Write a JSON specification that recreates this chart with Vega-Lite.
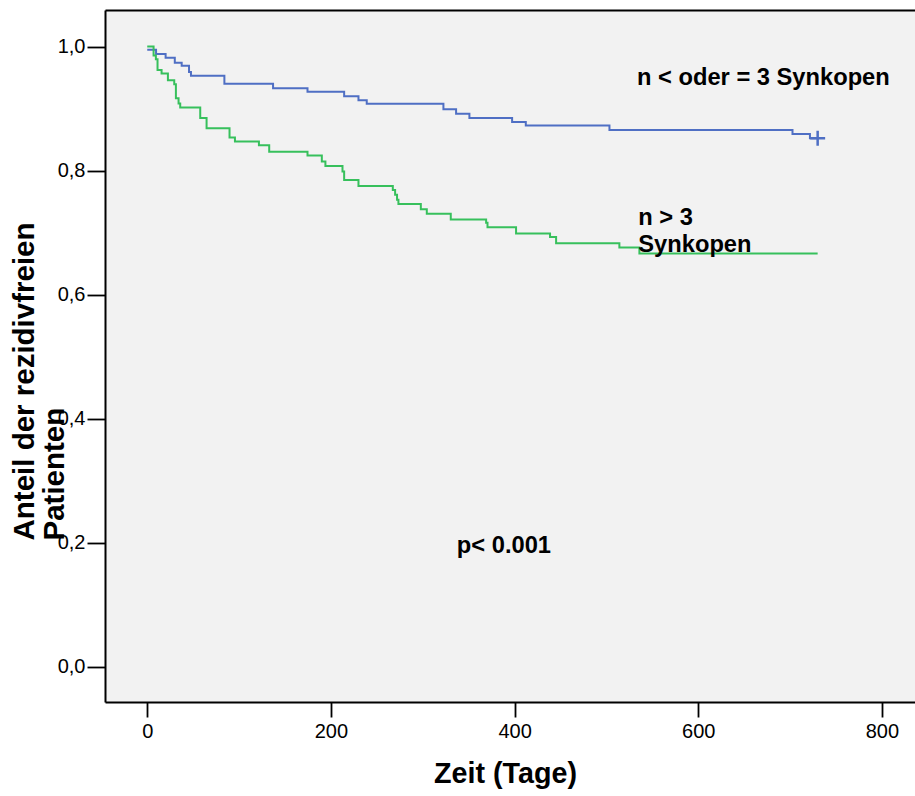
{
  "$schema": "https://vega.github.io/schema/vega-lite/v6.json",
  "width": 810,
  "height": 692,
  "autosize": {"type": "none"},
  "padding": {"left": 105, "top": 10, "right": 0, "bottom": 94},
  "background": "white",
  "config": {
    "view": {"fill": "#f2f2f2", "stroke": null},
    "font": "Liberation Sans",
    "axis": {"grid": false}
  },
  "datasets": {
    "curves": [
      {"group": "n <= 3", "day": 0, "S": 0.995},
      {"group": "n <= 3", "day": 9.6, "S": 0.988},
      {"group": "n <= 3", "day": 20, "S": 0.982},
      {"group": "n <= 3", "day": 30, "S": 0.974},
      {"group": "n <= 3", "day": 37.5, "S": 0.969},
      {"group": "n <= 3", "day": 45.5, "S": 0.959},
      {"group": "n <= 3", "day": 47.6, "S": 0.953},
      {"group": "n <= 3", "day": 84, "S": 0.94},
      {"group": "n <= 3", "day": 137, "S": 0.933},
      {"group": "n <= 3", "day": 174.5, "S": 0.927},
      {"group": "n <= 3", "day": 214.4, "S": 0.92},
      {"group": "n <= 3", "day": 230, "S": 0.9135},
      {"group": "n <= 3", "day": 239, "S": 0.908},
      {"group": "n <= 3", "day": 322.5, "S": 0.899},
      {"group": "n <= 3", "day": 336.3, "S": 0.8915},
      {"group": "n <= 3", "day": 350.8, "S": 0.885},
      {"group": "n <= 3", "day": 397.3, "S": 0.8785},
      {"group": "n <= 3", "day": 412.2, "S": 0.8726},
      {"group": "n <= 3", "day": 503.3, "S": 0.8656},
      {"group": "n <= 3", "day": 702.6, "S": 0.859},
      {"group": "n <= 3", "day": 721.6, "S": 0.852},
      {"group": "n <= 3", "day": 730, "S": 0.852},
      {"group": "n > 3", "day": 0, "S": 1.0},
      {"group": "n > 3", "day": 6.9, "S": 0.9855},
      {"group": "n > 3", "day": 9.4, "S": 0.9796},
      {"group": "n > 3", "day": 11.2, "S": 0.9624},
      {"group": "n > 3", "day": 15.6, "S": 0.9565},
      {"group": "n > 3", "day": 22.5, "S": 0.9458},
      {"group": "n > 3", "day": 29.4, "S": 0.9394},
      {"group": "n > 3", "day": 31.2, "S": 0.9168},
      {"group": "n > 3", "day": 34.1, "S": 0.9081},
      {"group": "n > 3", "day": 35.9, "S": 0.9016},
      {"group": "n > 3", "day": 57.7, "S": 0.885},
      {"group": "n > 3", "day": 64.6, "S": 0.8684},
      {"group": "n > 3", "day": 89.6, "S": 0.8532},
      {"group": "n > 3", "day": 95.5, "S": 0.8468},
      {"group": "n > 3", "day": 121.6, "S": 0.841},
      {"group": "n > 3", "day": 132.8, "S": 0.8302},
      {"group": "n > 3", "day": 174.5, "S": 0.8242},
      {"group": "n > 3", "day": 190.1, "S": 0.8145},
      {"group": "n > 3", "day": 194, "S": 0.8076},
      {"group": "n > 3", "day": 212.6, "S": 0.7984},
      {"group": "n > 3", "day": 214.4, "S": 0.785},
      {"group": "n > 3", "day": 230, "S": 0.7753},
      {"group": "n > 3", "day": 267.4, "S": 0.7689},
      {"group": "n > 3", "day": 269.9, "S": 0.761},
      {"group": "n > 3", "day": 272, "S": 0.753},
      {"group": "n > 3", "day": 273.5, "S": 0.746},
      {"group": "n > 3", "day": 297.9, "S": 0.7377},
      {"group": "n > 3", "day": 304.4, "S": 0.7306},
      {"group": "n > 3", "day": 330.5, "S": 0.721},
      {"group": "n > 3", "day": 369, "S": 0.716},
      {"group": "n > 3", "day": 370.5, "S": 0.7087},
      {"group": "n > 3", "day": 401.6, "S": 0.6984},
      {"group": "n > 3", "day": 438.6, "S": 0.693},
      {"group": "n > 3", "day": 445.2, "S": 0.6829},
      {"group": "n > 3", "day": 514.1, "S": 0.6758},
      {"group": "n > 3", "day": 535.9, "S": 0.6664},
      {"group": "n > 3", "day": 730, "S": 0.6664}
    ],
    "censor": [
      {"group": "n <= 3", "day": 730, "S": 0.852}
    ],
    "labels": [
      {"day": 533.3, "S": 0.9382, "label": "n < oder = 3 Synkopen"},
      {"day": 534.7, "S": 0.7124, "label": "n > 3"},
      {"day": 534.7, "S": 0.6694, "label": "Synkopen"},
      {"day": 337.1, "S": 0.1839, "label": "p< 0.001"}
    ]
  },
  "resolve": {"axis": {"x": "independent"}},
  "layer": [
    {
      "data": {"name": "curves"},
      "mark": {"type": "line", "interpolate": "step-after", "strokeWidth": 2},
      "encoding": {
        "x": {
          "field": "day", "type": "quantitative",
          "scale": {"domain": [-46, 836], "nice": false, "zero": false},
          "axis": {
            "orient": "bottom",
            "values": [0, 200, 400, 600, 800],
            "domainColor": "black", "domainWidth": 2,
            "tickColor": "black", "tickWidth": 1.8, "tickSize": 15,
            "labelPadding": 4, "labelFontSize": 20, "labelColor": "black",
            "labelFont": "Liberation Sans", "labelFlush": false, "labelOverlap": false,
            "title": "Zeit (Tage)",
            "titleFont": "Liberation Sans", "titleFontSize": 28.7, "titleFontWeight": "bold",
            "titleColor": "black", "titleX": 400, "titleY": 80,
            "titleAlign": "center", "titleBaseline": "alphabetic"
          }
        },
        "y": {
          "field": "S", "type": "quantitative",
          "scale": {"domain": [-0.057, 1.059], "nice": false, "zero": false},
          "axis": {
            "values": [0, 0.2, 0.4, 0.6, 0.8, 1.0],
            "labelExpr": "replace(format(datum.value, '.1f'), '.', ',')",
            "domainColor": "black", "domainWidth": 2,
            "tickColor": "black", "tickWidth": 1.8, "tickSize": 18,
            "labelPadding": 2, "labelFontSize": 20, "labelColor": "black",
            "labelFont": "Liberation Sans", "labelFlush": false, "labelOverlap": false,
            "title": ["Anteil der rezidivfreien", "Patienten"],
            "titleFont": "Liberation Sans", "titleFontSize": 29.5, "titleFontWeight": "bold",
            "titleColor": "black", "titleAngle": 270, "titleAlign": "left",
            "titleBaseline": "alphabetic", "titleX": -72, "titleY": 530,
            "titleLineHeight": 30
          }
        },
        "color": {
          "field": "group", "type": "nominal",
          "scale": {"domain": ["n <= 3", "n > 3"], "range": ["#4f6fc4", "#37c05c"]},
          "legend": null
        }
      }
    },
    {
      "data": {"name": "censor"},
      "mark": {"type": "point", "shape": "M-1,0H1M0,-1V1", "filled": false, "size": 225, "strokeWidth": 2.5, "color": "#4f6fc4", "opacity": 1},
      "encoding": {
        "x": {"field": "day", "type": "quantitative", "scale": {"domain": [-46, 836], "nice": false, "zero": false}, "axis": null},
        "y": {"field": "S", "type": "quantitative"}
      }
    },
    {
      "data": {"name": "labels"},
      "mark": {"type": "text", "align": "left", "baseline": "alphabetic", "font": "Liberation Sans", "fontSize": 23.7, "fontWeight": "bold", "color": "black"},
      "encoding": {
        "x": {"field": "day", "type": "quantitative", "scale": {"domain": [-46, 836], "nice": false, "zero": false}, "axis": null},
        "y": {"field": "S", "type": "quantitative"},
        "text": {"field": "label", "type": "nominal"}
      }
    },
    {
      "data": {"name": "censor"},
      "mark": {"type": "point", "opacity": 0},
      "encoding": {
        "x": {
          "field": "day", "type": "quantitative",
          "scale": {"domain": [-46, 836], "nice": false, "zero": false},
          "axis": {"orient": "top", "labels": false, "ticks": false, "title": null, "domainColor": "black", "domainWidth": 2}
        },
        "y": {"field": "S", "type": "quantitative"}
      }
    }
  ]
}
